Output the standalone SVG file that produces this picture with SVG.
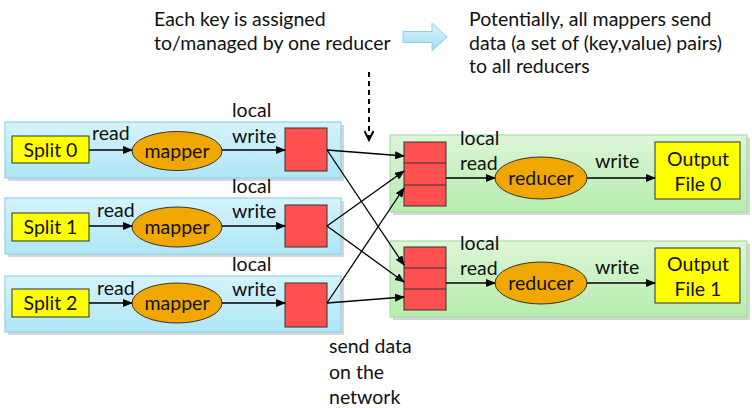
<svg xmlns="http://www.w3.org/2000/svg" width="752" height="408" viewBox="0 0 752 408">
<style>
text{font-family:Lato,"Open Sans",sans-serif;font-size:19.5px;fill:#111}
.panelM{fill:url(#gB);stroke:#8fd3ea;stroke-width:1.2}
.panelR{fill:url(#gG);stroke:#a8dca8;stroke-width:1.2}
.yel{fill:#ffff00;stroke:#333;stroke-width:1}
.ell{fill:#f0a800;stroke:#333;stroke-width:1}
.red{fill:#ff5050;stroke:#333;stroke-width:1}
.ln{stroke:#000;stroke-width:1.3;fill:none}
.shadow{fill:#bbb;opacity:.6}
</style>
<defs>
<linearGradient id="gB" x1="0" y1="0" x2="0" y2="1"><stop offset="0" stop-color="#d6f3fb"/><stop offset="1" stop-color="#aee6f6"/></linearGradient>
<linearGradient id="gG" x1="0" y1="0" x2="0" y2="1"><stop offset="0" stop-color="#dcf6d6"/><stop offset="1" stop-color="#b6ecae"/></linearGradient>
<linearGradient id="gA" x1="0" y1="0" x2="0" y2="1"><stop offset="0" stop-color="#e2f6fc"/><stop offset="1" stop-color="#9adaf0"/></linearGradient>
<marker id="ah" markerWidth="10" markerHeight="8" refX="9" refY="4" orient="auto" markerUnits="userSpaceOnUse"><path d="M0,0 L10,4 L0,8 Z" fill="#000"/></marker>
<marker id="vh" markerWidth="12" markerHeight="10" refX="10" refY="5" orient="auto" markerUnits="userSpaceOnUse"><path d="M1,0.5 L10,5 L1,9.5" fill="none" stroke="#000" stroke-width="2"/></marker>
</defs>

<g id="note-left">
<text x="154" y="26">Each key is assigned</text>
<text x="154" y="50">to/managed by one reducer</text>
</g>
<g id="block-arrow">
<path d="M403,31.5 L432,31.5 L432,23 L447,37 L432,51 L432,42.5 L403,42.5 Z" fill="url(#gA)" stroke="#8fcfe6" stroke-width="1"/>
</g>
<g id="note-right">
<text x="469" y="26">Potentially, all mappers send</text>
<text x="469" y="50">data (a set of (key,value) pairs)</text>
<text x="469" y="73">to all reducers</text>
</g>

<g id="mapper-panel-0">
<rect x="8" y="125" width="336" height="56" class="shadow"/>
<rect x="5" y="122" width="336" height="56" class="panelM"/>
<rect x="12" y="136" width="77" height="27" class="yel"/>
<text x="50.5" y="157" text-anchor="middle">Split 0</text>
<ellipse cx="177" cy="151" rx="45" ry="19.5" class="ell"/>
<text x="177" y="158" text-anchor="middle">mapper</text>
<rect x="285" y="128" width="42" height="43" class="red"/>
<text x="92" y="140">read</text>
<text x="232" y="117">local</text>
<text x="232" y="143">write</text>
</g>
<g id="mapper-panel-1">
<rect x="8" y="201" width="336" height="56" class="shadow"/>
<rect x="5" y="198" width="336" height="56" class="panelM"/>
<rect x="12" y="213" width="77" height="28" class="yel"/>
<text x="50.5" y="234" text-anchor="middle">Split 1</text>
<ellipse cx="177" cy="227" rx="45" ry="20" class="ell"/>
<text x="177" y="234" text-anchor="middle">mapper</text>
<rect x="285" y="205" width="42" height="42" class="red"/>
<text x="97" y="217">read</text>
<text x="232" y="193">local</text>
<text x="232" y="218">write</text>
</g>
<g id="mapper-panel-2">
<rect x="8" y="279" width="336" height="56" class="shadow"/>
<rect x="5" y="276" width="336" height="56" class="panelM"/>
<rect x="12" y="289" width="77" height="28" class="yel"/>
<text x="50.5" y="310" text-anchor="middle">Split 2</text>
<ellipse cx="177" cy="303" rx="45" ry="20" class="ell"/>
<text x="177" y="310" text-anchor="middle">mapper</text>
<rect x="285" y="283" width="42" height="44" class="red"/>
<text x="97" y="295">read</text>
<text x="232" y="271">local</text>
<text x="232" y="296">write</text>
</g>

<g id="reducer-panel-0">
<rect x="393" y="138" width="357" height="77" class="shadow"/>
<rect x="390" y="135" width="357" height="77" class="panelR"/>
<rect x="404" y="142" width="42" height="64" class="red"/>
<line x1="404" y1="163" x2="446" y2="163" stroke="#333"/>
<line x1="404" y1="185" x2="446" y2="185" stroke="#333"/>
<ellipse cx="541" cy="178" rx="46" ry="21" class="ell"/>
<text x="541" y="185" text-anchor="middle">reducer</text>
<rect x="655" y="142" width="85" height="57" class="yel"/>
<text x="698" y="166" text-anchor="middle">Output</text>
<text x="698" y="191" text-anchor="middle">File 0</text>
<text x="460" y="145">local</text>
<text x="460" y="170">read</text>
<text x="595" y="168">write</text>
</g>
<g id="reducer-panel-1">
<rect x="393" y="244" width="357" height="76" class="shadow"/>
<rect x="390" y="241" width="357" height="76" class="panelR"/>
<rect x="404" y="247" width="42" height="63" class="red"/>
<line x1="404" y1="268" x2="446" y2="268" stroke="#333"/>
<line x1="404" y1="289" x2="446" y2="289" stroke="#333"/>
<ellipse cx="541" cy="283" rx="46" ry="21" class="ell"/>
<text x="541" y="290" text-anchor="middle">reducer</text>
<rect x="655" y="248" width="85" height="55" class="yel"/>
<text x="698" y="271" text-anchor="middle">Output</text>
<text x="698" y="296" text-anchor="middle">File 1</text>
<text x="460" y="250">local</text>
<text x="460" y="275">read</text>
<text x="595" y="274">write</text>
</g>

<g id="send-label">
<text x="329" y="353">send data</text>
<text x="329" y="379">on the</text>
<text x="329" y="404">network</text>
</g>

<g id="connectors">
<line x1="89" y1="150" x2="132" y2="150" class="ln" marker-end="url(#ah)"/>
<line x1="222" y1="150" x2="285" y2="150" class="ln" marker-end="url(#ah)"/>
<line x1="89" y1="226" x2="132" y2="226" class="ln" marker-end="url(#ah)"/>
<line x1="222" y1="226" x2="285" y2="226" class="ln" marker-end="url(#ah)"/>
<line x1="89" y1="303" x2="132" y2="303" class="ln" marker-end="url(#ah)"/>
<line x1="222" y1="303" x2="285" y2="303" class="ln" marker-end="url(#ah)"/>
<line x1="327" y1="150" x2="404" y2="156" class="ln" marker-end="url(#ah)"/>
<line x1="327" y1="150" x2="404" y2="265" class="ln" marker-end="url(#ah)"/>
<line x1="327" y1="226" x2="404" y2="171" class="ln" marker-end="url(#ah)"/>
<line x1="327" y1="226" x2="404" y2="282" class="ln" marker-end="url(#ah)"/>
<line x1="327" y1="303" x2="404" y2="188" class="ln" marker-end="url(#ah)"/>
<line x1="327" y1="303" x2="404" y2="297" class="ln" marker-end="url(#ah)"/>
<line x1="446" y1="178" x2="495" y2="178" class="ln" marker-end="url(#ah)"/>
<line x1="587" y1="178" x2="655" y2="178" class="ln" marker-end="url(#ah)"/>
<line x1="446" y1="283" x2="495" y2="283" class="ln" marker-end="url(#ah)"/>
<line x1="587" y1="283" x2="655" y2="283" class="ln" marker-end="url(#ah)"/>
<line x1="369" y1="72" x2="369" y2="140" stroke="#000" stroke-width="2" stroke-dasharray="5,4" marker-end="url(#vh)"/>
</g>
</svg>
